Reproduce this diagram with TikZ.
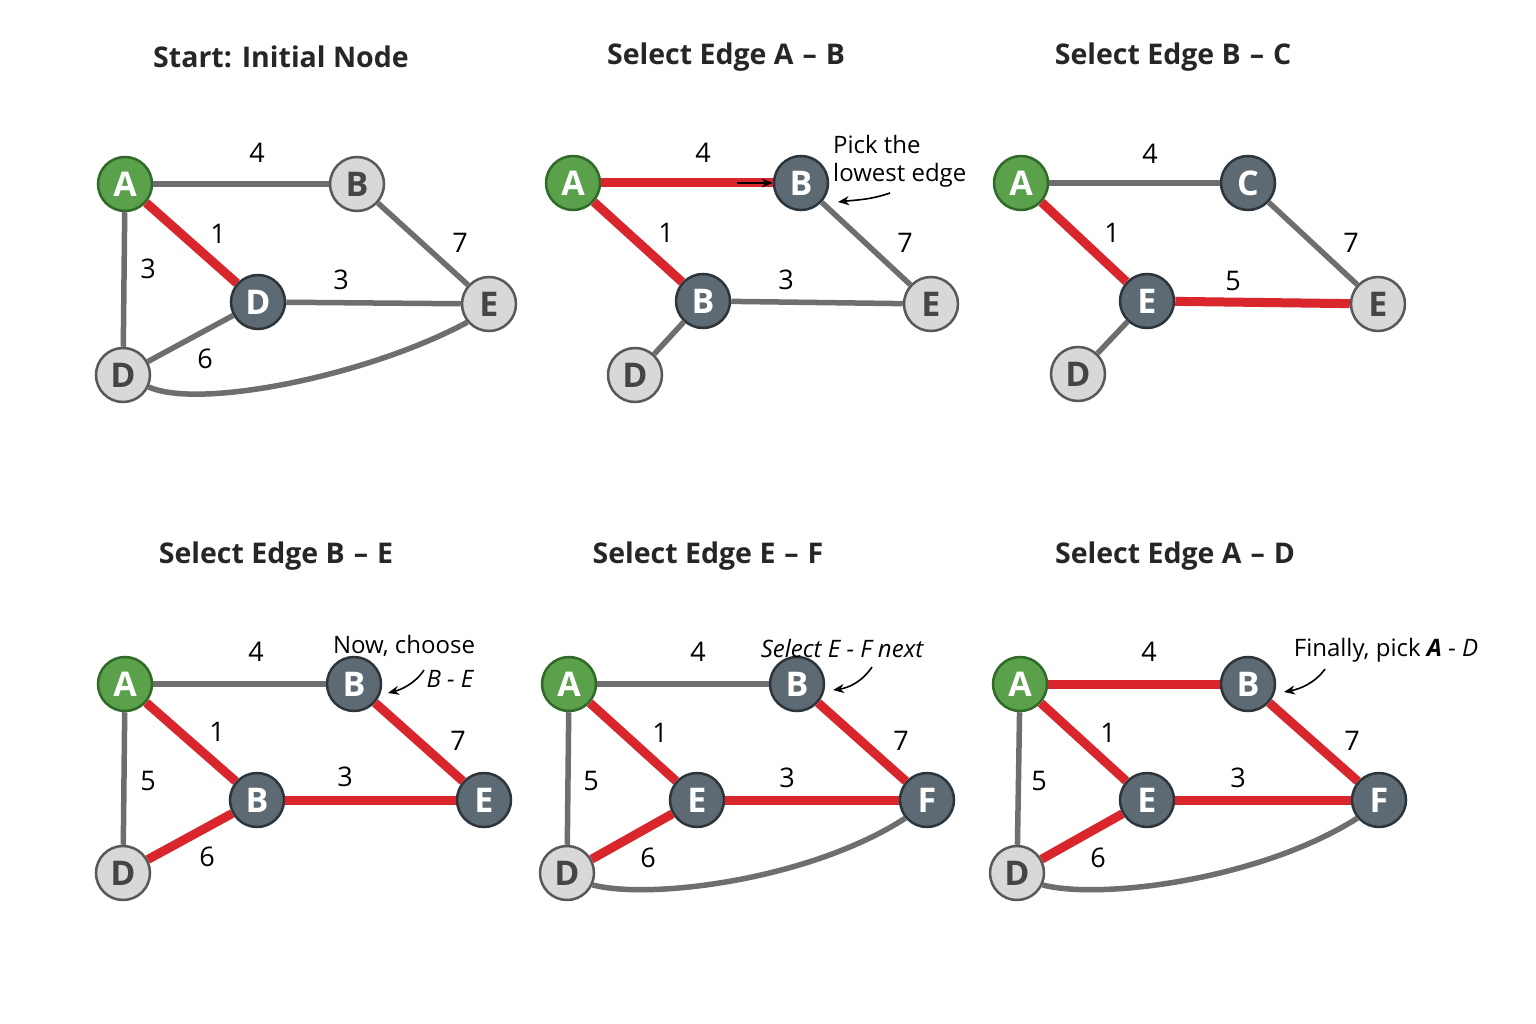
\documentclass[tikz,border=0pt]{standalone}
\usepackage{fontspec}
\setmainfont{Open Sans}
\usetikzlibrary{arrows.meta}
\definecolor{ngreen}{HTML}{5BA04A}
\definecolor{ngreenD}{HTML}{2F6A28}
\definecolor{ndark}{HTML}{5E6A73}
\definecolor{ndarkD}{HTML}{2C353B}
\definecolor{nlight}{HTML}{D8D8D8}
\definecolor{nlightD}{HTML}{585858}
\definecolor{ntext}{HTML}{454545}
\definecolor{egray}{HTML}{6E6E6E}
\definecolor{ered}{HTML}{D9262C}
\newcommand{\tdash}{\hspace{9pt}–\hspace{9pt}}
\tikzset{
 nd/.style={circle,minimum size=54pt,inner sep=0pt,line width=2.5pt,font=\fontsize{34}{34}\selectfont\bfseries},
 gn/.style={nd,fill=ngreen,draw=ngreenD,text=white},
 dk/.style={nd,fill=ndark,draw=ndarkD,text=white},
 lt/.style={nd,fill=nlight,draw=nlightD,text=ntext},
 ge/.style={draw=egray,line width=5.5pt},
 re/.style={draw=ered,line width=9pt},
 lbl/.style={font=\fontsize{27}{27}\selectfont,text=black},
 ttl/.style={font=\fontsize{28.5}{28}\selectfont\bfseries,text=black!85},
 note/.style={font=\fontsize{24}{28}\selectfont,align=left,text=black,inner sep=0pt},
 arr/.style={-{Stealth[length=11pt,width=9pt]},line width=1.6pt,black},
}
\begin{document}
\begin{tikzpicture}[x=1pt,y=-1pt]
\useasboundingbox (0,0) rectangle (1536,1024);
\fill[white] (0,0) rectangle (1536,1024);

% ---------- Panel 1 ----------
\node[ttl] (t1) at (281,57) {Start: Initial Node};
\node[gn] (p1A) at (125,184) {A};
\node[lt] (p1B) at (357,184) {B};
\node[dk] (p1Dm) at (258,302) {D};
\node[lt] (p1E) at (489,304) {E};
\node[lt] (p1D) at (123,375) {D};
\draw[ge] (p1A) -- (p1B);
\draw[ge] (p1A) -- (p1D);
\draw[ge] (p1Dm) -- (p1E);
\draw[ge] (p1D) -- (p1Dm);
\draw[ge] (p1B) -- (p1E);
\draw[ge] (p1D.-25) .. controls (200,410) and (370,375) .. (p1E.-140);
\draw[re] (p1A) -- (p1Dm);
\node[lbl] (p1l4) at (257,153) {4};
\node[lbl] (p1l1) at (218,234) {1};
\node[lbl] (p1l3a) at (148,269) {3};
\node[lbl] (p1l3b) at (341,280) {3};
\node[lbl] (p1l7) at (460,243) {7};
\node[lbl] (p1l6) at (205,359) {6};

% ---------- Panel 2 ----------
\node[ttl] (t2) at (726,57) {Select Edge A\tdash B};
\node[gn] (p2A) at (573,183) {A};
\node[dk] (p2Bt) at (801,183) {B};
\node[dk] (p2Bm) at (703,301) {B};
\node[lt] (p2E) at (931,304) {E};
\node[lt] (p2D) at (635,375) {D};
\draw[ge] (p2Bm) -- (p2E);
\draw[ge] (p2Bt) -- (p2E);
\draw[ge] (p2D) -- (p2Bm);
\draw[re] (p2A) -- (p2Bt);
\draw[re] (p2A) -- (p2Bm);
\coordinate (p2as) at (737,183);
\draw[arr] (p2as) -- (p2Bt);
\node[lbl] (p2l4) at (703,153) {4};
\node[lbl] (p2l1) at (666,233) {1};
\node[lbl] (p2l3) at (786,280) {3};
\node[lbl] (p2l7) at (905,243) {7};
\node[note,anchor=north west] (p2n) at (833,135) {Pick the\\lowest edge};
\coordinate (p2c1) at (890,193);
\coordinate (p2c2) at (838,202);
\draw[arr] (p2c1) .. controls (870,200) and (855,200) .. (p2c2);

% ---------- Panel 3 ----------
\node[ttl] (t3) at (1173,57) {Select Edge B\tdash C};
\node[gn] (p3A) at (1021,183) {A};
\node[dk] (p3C) at (1248,183) {C};
\node[dk] (p3Em) at (1147,301) {E};
\node[lt] (p3E) at (1378,304) {E};
\node[lt] (p3D) at (1078,374) {D};
\draw[ge] (p3A) -- (p3C);
\draw[ge] (p3C) -- (p3E);
\draw[ge] (p3D) -- (p3Em);
\draw[re] (p3A) -- (p3Em);
\draw[re] (p3Em) -- (p3E);
\node[lbl] (p3l4) at (1150,154) {4};
\node[lbl] (p3l1) at (1112,233) {1};
\node[lbl] (p3l5) at (1233,281) {5};
\node[lbl] (p3l7) at (1351,243) {7};

% ---------- Panel 4 ----------
\node[ttl] (t4) at (276,556) {Select Edge B\tdash E};
\node[gn] (p4A) at (125,684) {A};
\node[dk] (p4Bt) at (354,684) {B};
\node[dk] (p4Bm) at (257,800) {B};
\node[dk] (p4E) at (484,800) {E};
\node[lt] (p4D) at (123,873) {D};
\draw[ge] (p4A) -- (p4Bt);
\draw[ge] (p4A) -- (p4D);
\draw[re] (p4A) -- (p4Bm);
\draw[re] (p4Bt) -- (p4E);
\draw[re] (p4Bm) -- (p4E);
\draw[re] (p4D) -- (p4Bm);
\node[lbl] (p4l4) at (256,652) {4};
\node[lbl] (p4l1) at (217,732) {1};
\node[lbl] (p4l5) at (148,781) {5};
\node[lbl] (p4l3) at (345,777) {3};
\node[lbl] (p4l7) at (458,741) {7};
\node[lbl] (p4l6) at (207,857) {6};
\node[note] (p4n1) at (404,646) {Now, choose};
\node[note] (p4n2) at (450,679) {\itshape B - E};
\coordinate (p4c1) at (424,670);
\coordinate (p4c2) at (388,693);
\draw[arr] (p4c1) .. controls (415,684) and (400,690) .. (p4c2);

% ---------- Panel 5 ----------
\node[ttl] (t5) at (708,556) {Select Edge E\tdash F};
\node[gn] (p5A) at (569,684) {A};
\node[dk] (p5B) at (797,684) {B};
\node[dk] (p5E) at (697,800) {E};
\node[dk] (p5F) at (927,800) {F};
\node[lt] (p5D) at (567,873) {D};
\draw[ge] (p5A) -- (p5B);
\draw[ge] (p5A) -- (p5D);
\draw[ge] (p5D.-25) .. controls (650,900) and (810,880) .. (p5F.-140);
\draw[re] (p5A) -- (p5E);
\draw[re] (p5B) -- (p5F);
\draw[re] (p5E) -- (p5F);
\draw[re] (p5D) -- (p5E);
\node[lbl] (p5l4) at (698,652) {4};
\node[lbl] (p5l1) at (660,733) {1};
\node[lbl] (p5l5) at (591,781) {5};
\node[lbl] (p5l3) at (787,778) {3};
\node[lbl] (p5l7) at (901,741) {7};
\node[lbl] (p5l6) at (648,858) {6};
\node[note] (p5n) at (842,648) {\itshape Select E - F next};
\coordinate (p5c1) at (872,667);
\coordinate (p5c2) at (833,690);
\draw[arr] (p5c1) .. controls (862,682) and (848,688) .. (p5c2);

% ---------- Panel 6 ----------
\node[ttl] (t6) at (1175,556) {Select Edge A\tdash D};
\node[gn] (p6A) at (1020,684) {A};
\node[dk] (p6B) at (1248,684) {B};
\node[dk] (p6E) at (1147,800) {E};
\node[dk] (p6F) at (1379,800) {F};
\node[lt] (p6D) at (1017,873) {D};
\draw[ge] (p6A) -- (p6D);
\draw[ge] (p6D.-25) .. controls (1100,900) and (1260,880) .. (p6F.-140);
\draw[re] (p6A) -- (p6B);
\draw[re] (p6A) -- (p6E);
\draw[re] (p6B) -- (p6F);
\draw[re] (p6E) -- (p6F);
\draw[re] (p6D) -- (p6E);
\node[lbl] (p6l4) at (1149,652) {4};
\node[lbl] (p6l1) at (1108,733) {1};
\node[lbl] (p6l5) at (1039,781) {5};
\node[lbl] (p6l3) at (1238,778) {3};
\node[lbl] (p6l7) at (1352,741) {7};
\node[lbl] (p6l6) at (1098,858) {6};
\node[note] (p6n) at (1386,650) {Finally, pick \textbf{\itshape A} - \textit{D}};
\coordinate (p6c1) at (1325,669);
\coordinate (p6c2) at (1284,692);
\draw[arr] (p6c1) .. controls (1315,683) and (1300,689) .. (p6c2);
\end{tikzpicture}
\end{document}
